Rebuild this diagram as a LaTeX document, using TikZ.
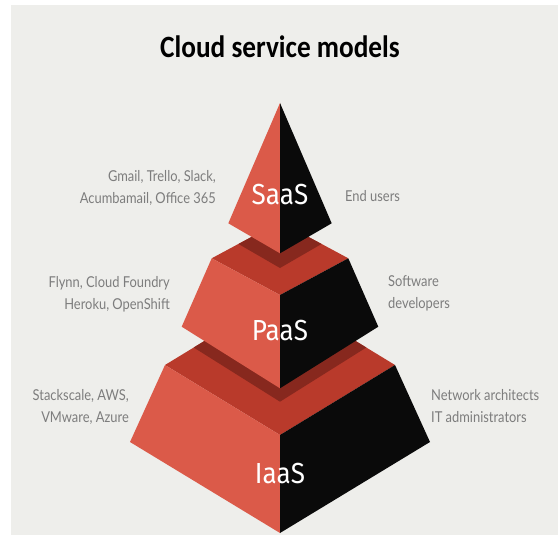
\documentclass[tikz,border=0pt]{standalone}
\usepackage{fontspec}
\setmainfont{Fira Sans}
\newfontfamily\titlefont{Carlito}[FakeStretch=0.88]
\newfontfamily\lightfont{Lato}[FakeStretch=0.86]
\newfontfamily\tierfont{Fira Sans}[FakeStretch=0.9]

\definecolor{bggray}{RGB}{238,238,235}
\definecolor{facered}{RGB}{219,90,73}
\definecolor{topred}{RGB}{185,58,43}
\definecolor{shadowred}{RGB}{135,40,30}
\definecolor{faceblack}{RGB}{10,10,10}
\definecolor{labelgray}{RGB}{125,125,125}

\tikzset{
  leftface/.style={fill=facered},
  rightface/.style={fill=faceblack},
  topface/.style={fill=topred},
  shadowband/.style={fill=shadowred},
  tierlabel/.style={text=white, font=\tierfont\fontsize{29}{32}\selectfont, inner sep=0pt},
  sidelabel/.style={text=labelgray, font=\lightfont\fontsize{15}{21.5}\selectfont, inner sep=0pt},
}

\begin{document}
\begin{tikzpicture}[x=1pt,y=-1pt]
  % canvas
  \useasboundingbox (0,0) rectangle (558,535);
  \fill[white] (0,0) rectangle (558,535);
  \fill[bggray] (11,5) rectangle (558,535);

  % ---- IaaS tier ----
  \coordinate (iL) at (165,365);
  \coordinate (iF) at (280,435);
  \coordinate (iR) at (395,365);
  \coordinate (iB) at (280,295);
  \coordinate (iBL) at (130,442);
  \coordinate (iBR) at (430,442);
  \coordinate (iBF) at (280,533);
  \fill[topface] (iL) -- (iF) -- (iR) -- (iB) -- cycle;
  \fill[shadowband] (193.7,347.5) -- (280,401.7) -- (366.3,347.5) -- (iB) -- cycle;
  \fill[leftface] (iL) -- (iF) -- (iBF) -- (iBL) -- cycle;
  \fill[rightface] (iF) -- (iR) -- (iBR) -- (iBF) -- cycle;

  % ---- PaaS tier ----
  \coordinate (pL) at (211.7,258.3);
  \coordinate (pF) at (280,295);
  \coordinate (pR) at (348.3,258.3);
  \coordinate (pB) at (280,221.6);
  \coordinate (pBL) at (181.7,326.7);
  \coordinate (pBR) at (378.3,326.7);
  \coordinate (pBF) at (280,388.3);
  \fill[topface] (pL) -- (pF) -- (pR) -- (pB) -- cycle;
  \fill[shadowband] (238.5,244) -- (280,268) -- (321.5,244) -- (pB) -- cycle;
  \fill[leftface] (pL) -- (pF) -- (pBF) -- (pBL) -- cycle;
  \fill[rightface] (pF) -- (pR) -- (pBR) -- (pBF) -- cycle;

  % ---- SaaS tier ----
  \coordinate (sA) at (280,103);
  \coordinate (sL) at (228.3,223.3);
  \coordinate (sR) at (331.7,223.3);
  \coordinate (sF) at (280,253.3);
  \fill[leftface] (sA) -- (sL) -- (sF) -- cycle;
  \fill[rightface] (sA) -- (sF) -- (sR) -- cycle;

  % ---- title ----
  \node[font=\titlefont\bfseries\fontsize{31}{34}\selectfont, inner sep=0pt] (title) at (280,47) {Cloud service models};

  % ---- tier names ----
  \node[tierlabel] (saas) at (280,195) {SaaS};
  \node[tierlabel] (paas) at (280,331) {PaaS};
  \node[tierlabel] (iaas) at (280,474) {IaaS};

  % ---- examples (left) ----
  \node[sidelabel, anchor=east, align=right] (saasex) at (216,188) {Gmail, Trello, Slack,\\Acumbamail, Office 365};
  \node[sidelabel, anchor=east, align=right] (paasex) at (170,294.5) {Flynn, Cloud Foundry\\Heroku, OpenShift};
  \node[sidelabel, anchor=east, align=right] (iaasex) at (129,407) {Stackscale, AWS,\\VMware, Azure};

  % ---- users (right) ----
  \node[sidelabel, anchor=west, align=left] (saasusr) at (345,195.7) {End users};
  \node[sidelabel, anchor=west, align=left] (paasusr) at (388,293.5) {Software\\developers};
  \node[sidelabel, anchor=west, align=left] (iaasusr) at (431,406) {Network architects\\IT administrators};
\end{tikzpicture}
\end{document}
